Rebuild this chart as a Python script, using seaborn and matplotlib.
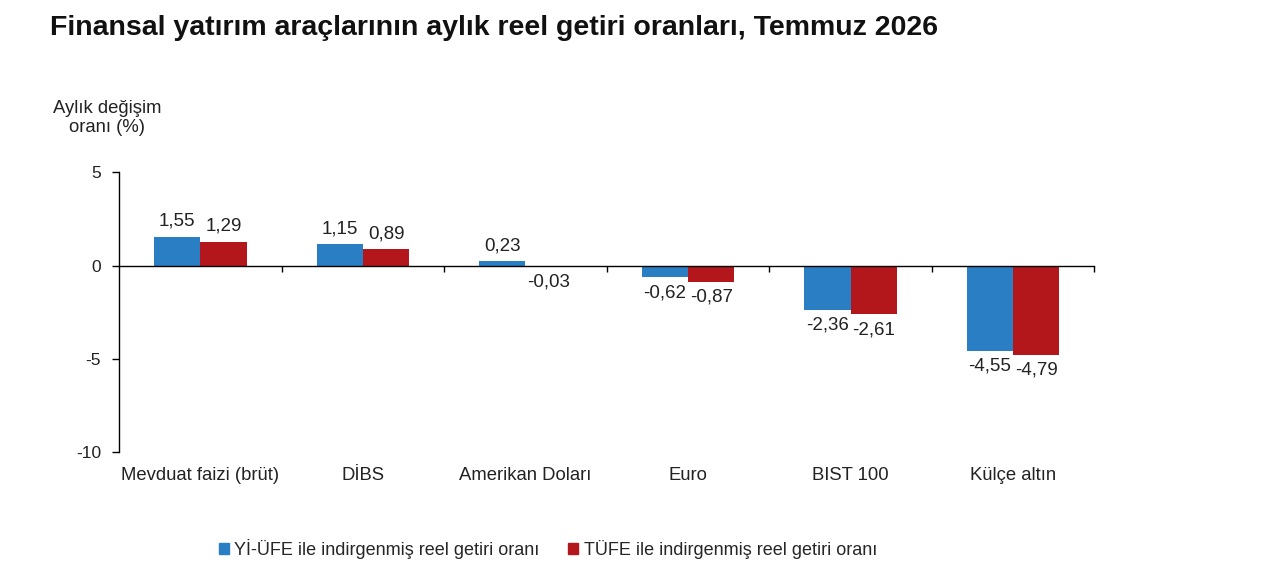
import numpy as np
import pandas as pd
import matplotlib
matplotlib.use("Agg")
import matplotlib.pyplot as plt
import seaborn as sns

# data
categories = ["Mevduat faizi (brüt)", "DİBS", "Amerikan Doları", "Euro", "BIST 100", "Külçe altın"]
series_names = ["Yİ-ÜFE ile indirgenmiş reel getiri oranı", "TÜFE ile indirgenmiş reel getiri oranı"]
yiufe_values = [1.55, 1.15, 0.23, -0.62, -2.36, -4.55]
tufe_values = [1.29, 0.89, -0.03, -0.87, -2.61, -4.79]
y_ticks = [5, 0, -5, -10]

colors = ["#2a7fc4", "#b3161b"]

df = pd.DataFrame({
    "kategori": categories * 2,
    "seri": [series_names[0]] * len(categories) + [series_names[1]] * len(categories),
    "deger": yiufe_values + tufe_values,
})

sns.set_theme(style="white")
plt.rcParams["font.family"] = ["Liberation Sans", "DejaVu Sans"]

fig = plt.figure(figsize=(12.8, 5.82), dpi=100)
ax = fig.add_axes([0.093, 0.223, 0.762, 0.481])

sns.barplot(data=df, x="kategori", y="deger", hue="seri", order=categories,
            hue_order=series_names, palette=colors, width=0.57, saturation=1,
            linewidth=0, ax=ax, legend=False)

# value labels with Turkish decimal comma
for container in ax.containers:
    labels = [f"{v:.2f}".replace(".", ",") for v in container.datavalues]
    ax.bar_label(container, labels=labels, padding=5, fontsize=13.5, color="#222222")

ax.set_xlim(-0.5, len(categories) - 0.5)
ax.set_ylim(-10, 5)
ax.set_yticks(y_ticks)
ax.set_yticklabels([str(t) for t in y_ticks], fontsize=12.5, color="#222222")
ax.tick_params(axis="y", direction="out", length=5, width=1, color="black", left=True, pad=8)

# zero line as bottom spine with boundary ticks
for s in ["top", "right"]:
    ax.spines[s].set_visible(False)
ax.spines["left"].set_color("black")
ax.spines["left"].set_linewidth(1)
ax.spines["bottom"].set_position(("data", 0))
ax.spines["bottom"].set_color("black")
ax.spines["bottom"].set_linewidth(1)
ax.set_xticks(np.arange(len(categories)) + 0.5)
ax.set_xticklabels([])
ax.tick_params(axis="x", direction="out", length=4, width=1, color="black", bottom=True)
ax.set_xlabel("")
ax.set_ylabel("")

# category names under the plot area
for i, name in enumerate(categories):
    ax.annotate(name, xy=(i, -10), xycoords="data", xytext=(0, -17), textcoords="offset points",
                ha="center", va="center", fontsize=13.3, color="#222222")

fig.text(107 / 1280, 1 - 118 / 582, "Aylık değişim\noranı (%)", ha="center", va="center",
         fontsize=13.3, color="#222222", linespacing=1.15)

fig.text(50 / 1280, 1 - 28 / 582, "Finansal yatırım araçlarının aylık reel getiri oranları, Temmuz 2026",
         ha="left", va="center", fontsize=20.5, fontweight="bold", color="#111111")

handles = [plt.Rectangle((0, 0), 1, 1, color=c) for c in colors]
fig.legend(handles, series_names, loc="center", bbox_to_anchor=(548 / 1280, 1 - 549 / 582),
           ncol=2, frameon=False, fontsize=13, handlelength=0.55, handleheight=0.55,
           handletextpad=0.3, columnspacing=1.6)

fig.savefig("out.png", dpi=100, facecolor="white")
